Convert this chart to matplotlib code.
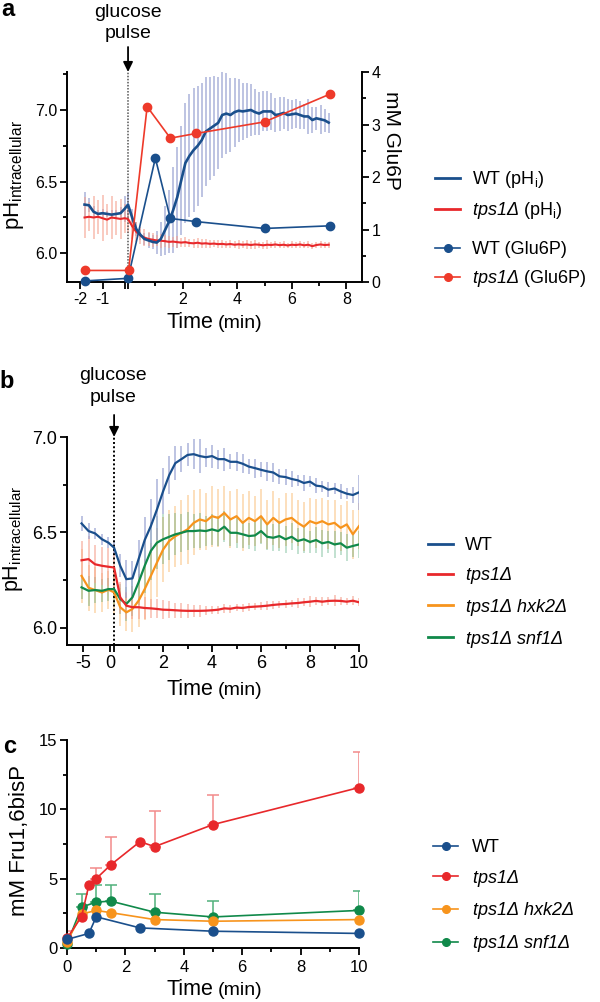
import numpy as np
import matplotlib
matplotlib.use('Agg')
import matplotlib.pyplot as plt
from matplotlib.lines import Line2D

plt.rcParams['font.family'] = ['Liberation Sans', 'DejaVu Sans']
plt.rcParams['mathtext.fontset'] = 'custom'
plt.rcParams['mathtext.rm'] = 'Liberation Sans'
plt.rcParams['mathtext.it'] = 'Liberation Sans:italic'
plt.rcParams['mathtext.sf'] = 'Liberation Sans:italic'
plt.rcParams['mathtext.bf'] = 'Liberation Sans:bold'
plt.rcParams['axes.unicode_minus'] = False

BLUE = '#1a4f8c'
RED = '#e8282b'
ORANGE = '#f7941d'
GREEN = '#10894a'
BLUE_BAR = '#9aa2d2'
RED_BAR = '#f5a08e'

# ---------------- panel a data ----------------
ta_left = [-1.8, -1.6, -1.4, -1.2, -1.0, -0.8, -0.6, -0.4, -0.2, -0.02]
ta_right = np.round(np.arange(50) * 0.15, 2)
ph_a_wt_left = [6.34, 6.335, 6.29, 6.275, 6.28, 6.275, 6.27, 6.275, 6.28, 6.31]
sd_a_wt_left = [0.09, 0.05, 0.04, 0.03, 0.03, 0.02, 0.03, 0.03, 0.04, 0.09]
ph_a_tps_left = [6.25, 6.255, 6.25, 6.255, 6.245, 6.235, 6.25, 6.245, 6.24, 6.245]
sd_a_tps_left = [0.14, 0.10, 0.15, 0.12, 0.16, 0.11, 0.15, 0.12, 0.14, 0.10]
ph_a_wt_right = [6.34, 6.25, 6.17, 6.13, 6.10, 6.09, 6.08, 6.075, 6.10, 6.16,
                 6.22, 6.30, 6.39, 6.51, 6.63, 6.68, 6.72, 6.75, 6.79, 6.85,
                 6.87, 6.89, 6.91, 6.965, 6.975, 6.965, 6.985, 6.995, 6.99, 6.995,
                 7.0, 6.985, 6.975, 6.99, 6.99, 6.99, 6.965, 6.97, 6.98, 6.965,
                 6.97, 6.975, 6.965, 6.955, 6.955, 6.93, 6.942, 6.935, 6.928, 6.912]
sd_a_wt_right = [0.08, 0.06, 0.05, 0.04, 0.04, 0.05, 0.05, 0.08, 0.12, 0.17,
                 0.22, 0.30, 0.35, 0.38, 0.42, 0.43, 0.43, 0.42, 0.40, 0.38,
                 0.36, 0.35, 0.32, 0.30, 0.28, 0.26, 0.24, 0.22, 0.20, 0.19,
                 0.18, 0.16, 0.15, 0.14, 0.14, 0.13, 0.12, 0.12, 0.11, 0.11,
                 0.10, 0.10, 0.10, 0.09, 0.12, 0.09, 0.08, 0.10, 0.08, 0.07]
ph_a_tps_right = [6.24, 6.19, 6.15, 6.125, 6.11, 6.10, 6.095, 6.09, 6.088, 6.085,
                  6.08, 6.082, 6.078, 6.075, 6.078, 6.072, 6.07, 6.074, 6.068, 6.07,
                  6.066, 6.068, 6.064, 6.066, 6.062, 6.065, 6.06, 6.063, 6.06, 6.062,
                  6.058, 6.062, 6.06, 6.056, 6.06, 6.058, 6.062, 6.057, 6.06, 6.055,
                  6.06, 6.058, 6.062, 6.056, 6.06, 6.05, 6.058, 6.062, 6.058, 6.06]
sd_a_tps_right = [0.10, 0.09, 0.07, 0.06, 0.06, 0.05, 0.05, 0.04, 0.05, 0.04,
                  0.04, 0.035, 0.04, 0.03, 0.035, 0.03, 0.03, 0.035, 0.03, 0.03,
                  0.03, 0.025, 0.03, 0.03, 0.025, 0.03, 0.025, 0.03, 0.025, 0.03,
                  0.025, 0.03, 0.02, 0.025, 0.03, 0.02, 0.025, 0.02, 0.025, 0.02,
                  0.025, 0.02, 0.025, 0.02, 0.025, 0.02, 0.02, 0.025, 0.02, 0.02]
t_g6p_wt = [-1.8, 0.0, 1.0, 1.55, 2.5, 5.0, 7.4]
g6p_wt = [0.02, 0.07, 2.36, 1.21, 1.15, 1.02, 1.07]
t_g6p_tps = [-1.8, 0.02, 0.7, 1.55, 2.5, 5.0, 7.4]
g6p_tps = [0.22, 0.22, 3.34, 2.74, 2.83, 3.05, 3.58]

# ---------------- panel b data ----------------
tb_left = [-5.3, -4.0, -2.8, -1.5, -0.3]
tb_right = np.round(np.arange(41) * 0.25, 2)
wt_b_left = [6.547, 6.507, 6.495, 6.464, 6.446]
tps_b_left = [6.354, 6.36, 6.333, 6.325, 6.32]
hxk_b_left = [6.272, 6.21, 6.198, 6.185, 6.2]
snf_b_left = [6.212, 6.194, 6.198, 6.194, 6.203]
wt_b_left_sd = [0.04, 0.04, 0.03, 0.03, 0.03]
tps_b_left_sd = [0.10, 0.12, 0.10, 0.10, 0.10]
hxk_b_left_sd = [0.14, 0.12, 0.12, 0.10, 0.10]
snf_b_left_sd = [0.06, 0.08, 0.07, 0.06, 0.06]
wt_b = [6.42, 6.325, 6.255, 6.259, 6.36, 6.46, 6.533, 6.62, 6.715, 6.80,
        6.863, 6.884, 6.906, 6.91, 6.90, 6.894, 6.90, 6.884, 6.884, 6.87,
        6.87, 6.86, 6.845, 6.837, 6.828, 6.82, 6.814, 6.794, 6.79, 6.78,
        6.773, 6.759, 6.766, 6.745, 6.741, 6.724, 6.73, 6.715, 6.703, 6.696,
        6.71]
tps_b = [6.316, 6.16, 6.116, 6.108, 6.108, 6.104, 6.102, 6.099, 6.095, 6.094,
         6.092, 6.09, 6.089, 6.089, 6.089, 6.09, 6.092, 6.095, 6.102, 6.1,
         6.106, 6.104, 6.109, 6.111, 6.113, 6.116, 6.12, 6.123, 6.125, 6.128,
         6.13, 6.134, 6.137, 6.141, 6.137, 6.141, 6.142, 6.141, 6.137, 6.142,
         6.134]
hxk_b = [6.186, 6.108, 6.081, 6.099, 6.142, 6.203, 6.272, 6.342, 6.41, 6.455,
         6.48, 6.498, 6.516, 6.55, 6.568, 6.559, 6.585, 6.576, 6.602, 6.568,
         6.585, 6.55, 6.576, 6.559, 6.585, 6.542, 6.576, 6.55, 6.568, 6.576,
         6.55, 6.53, 6.559, 6.547, 6.559, 6.542, 6.55, 6.524, 6.542, 6.49,
         6.533]
snf_b = [6.203, 6.151, 6.125, 6.16, 6.238, 6.325, 6.403, 6.446, 6.464, 6.477,
         6.49, 6.498, 6.507, 6.507, 6.51, 6.507, 6.516, 6.507, 6.53, 6.498,
         6.498, 6.49, 6.481, 6.484, 6.507, 6.477, 6.472, 6.481, 6.464, 6.477,
         6.455, 6.464, 6.45, 6.46, 6.443, 6.45, 6.437, 6.443, 6.42, 6.429,
         6.437]
wt_b_sd = [0.04, 0.06, 0.10, 0.09, 0.10, 0.12, 0.14, 0.16, 0.12, 0.10,
           0.09, 0.07, 0.06, 0.08, 0.09, 0.05, 0.06, 0.05, 0.06, 0.04,
           0.05, 0.05, 0.04, 0.05, 0.04, 0.05, 0.05, 0.04, 0.04, 0.04,
           0.03, 0.04, 0.03, 0.04, 0.03, 0.04, 0.03, 0.04, 0.03, 0.04,
           0.09]
tps_b_sd = [0.10, 0.08, 0.07, 0.06, 0.06, 0.06, 0.05, 0.05, 0.05, 0.045,
            0.04, 0.04, 0.035, 0.03, 0.03, 0.025, 0.02, 0.02, 0.025, 0.02,
            0.02, 0.02, 0.02, 0.02, 0.02, 0.025, 0.02, 0.02, 0.02, 0.02,
            0.025, 0.02, 0.03, 0.02, 0.025, 0.02, 0.03, 0.02, 0.02, 0.025,
            0.02]
hxk_b_sd = [0.12, 0.10, 0.10, 0.12, 0.14, 0.16, 0.17, 0.18, 0.17, 0.16,
            0.16, 0.17, 0.18, 0.17, 0.16, 0.15, 0.16, 0.15, 0.14, 0.15,
            0.14, 0.15, 0.14, 0.13, 0.14, 0.13, 0.14, 0.13, 0.14, 0.13,
            0.12, 0.13, 0.12, 0.13, 0.12, 0.13, 0.12, 0.12, 0.12, 0.13,
            0.12]
snf_b_sd = [0.08, 0.08, 0.09, 0.10, 0.12, 0.14, 0.15, 0.14, 0.13, 0.12,
            0.11, 0.10, 0.10, 0.09, 0.09, 0.08, 0.08, 0.08, 0.08, 0.07,
            0.08, 0.07, 0.07, 0.08, 0.07, 0.07, 0.07, 0.08, 0.07, 0.07,
            0.07, 0.07, 0.06, 0.07, 0.07, 0.06, 0.07, 0.06, 0.07, 0.06,
            0.07]

# ---------------- panel c data ----------------
tc_wt = [0, 0.75, 1.0, 2.5, 5.0, 10.0]
fbp_wt = [0.62, 1.05, 2.25, 1.45, 1.21, 1.05]
tc_tps = [0, 0.5, 0.75, 1.0, 1.5, 2.5, 3.0, 5.0, 10.0]
fbp_tps = [0.69, 2.27, 4.55, 5.0, 6.0, 7.67, 7.31, 8.9, 11.57]
fbp_tps_sd = [0.52, 0, 0, 0.78, 2.0, 0, 2.55, 2.15, 2.57]
tc_hxk = [0, 0.5, 1.0, 1.5, 3.0, 5.0, 10.0]
fbp_hxk = [0.45, 2.45, 2.71, 2.55, 2.05, 1.93, 2.05]
tc_snf = [0, 0.5, 1.0, 1.5, 3.0, 5.0, 10.0]
fbp_snf = [0.3, 2.95, 3.31, 3.38, 2.58, 2.24, 2.71]
fbp_snf_sd = [0, 0.95, 1.24, 1.17, 1.28, 1.14, 1.43]

W, H = 600, 1002
fig = plt.figure(figsize=(W / 100, H / 100), dpi=100)


def rect(l, r, t, b):
    return [l / W, 1 - b / H, (r - l) / W, (b - t) / H]


def ftext(x, y, s, **kw):
    return fig.text(x / W, 1 - y / H, s, **kw)


def broken_scale(ax, k, g):
    def fwd(x):
        x = np.asarray(x, float)
        return np.where(x < 0, k * x - g, x)

    def inv(y):
        y = np.asarray(y, float)
        return np.where(y < -g, (y + g) / k, np.maximum(y, 0.0))
    ax.set_xscale('function', functions=(fwd, inv))


def style(ax, fs):
    for s in ['top', 'right']:
        ax.spines[s].set_visible(False)
    for s in ['left', 'bottom']:
        ax.spines[s].set_linewidth(1.4)
    ax.tick_params(which='major', direction='out', length=5, width=1.3,
                   labelsize=fs, pad=2)
    ax.tick_params(which='minor', direction='out', length=3, width=1.3)


def pulse(ax, ytext_frac, x_text_px, y1_px, y2_px):
    ax.annotate('', xy=(0, 1.0), xycoords=('data', 'axes fraction'),
                xytext=(0, ytext_frac), textcoords=('data', 'axes fraction'),
                arrowprops=dict(arrowstyle='-|>,head_length=0.45,head_width=0.22',
                                color='black', lw=1.3, mutation_scale=13,
                                shrinkA=0, shrinkB=0),
                annotation_clip=False)
    ftext(x_text_px, y1_px, 'glucose', ha='center', va='baseline', fontsize=14)
    ftext(x_text_px, y2_px, 'pulse', ha='center', va='baseline', fontsize=14)


def time_label(ybase):
    ftext(213, ybase, 'Time', ha='right', va='baseline', fontsize=15.5)
    ftext(218, ybase, '(min)', ha='left', va='baseline', fontsize=14)


# ================= panel a =================
axA = fig.add_axes(rect(67, 362, 72, 282))
broken_scale(axA, 0.824, 0.11)
axA.set_xlim(-2.58, 8.57)
axA.set_ylim(5.8, 7.265)
style(axA, 11.5)

t_a = np.concatenate([ta_left, ta_right])
wt_a = np.concatenate([ph_a_wt_left, ph_a_wt_right])
wt_a_sd = np.concatenate([sd_a_wt_left, sd_a_wt_right])
tps_a = np.concatenate([ph_a_tps_left, ph_a_tps_right])
tps_a_sd = np.concatenate([sd_a_tps_left, sd_a_tps_right])

axA.vlines(t_a, wt_a - wt_a_sd, wt_a + wt_a_sd, color=BLUE_BAR, lw=1.3, alpha=0.7, zorder=1)
axA.vlines(t_a, tps_a - tps_a_sd, tps_a + tps_a_sd, color=RED_BAR, lw=1.3, alpha=0.6, zorder=1)
axA.axvline(0, color='#555555', ls=(0, (1, 1)), lw=1.1, zorder=1.5)
axA.plot(t_a, tps_a, color=RED, lw=1.5, zorder=2)
axA.plot(t_a, wt_a, color=BLUE, lw=1.9, zorder=3)

axA.set_xticks([-2, -1, -1e-9, 0, 2, 4, 6, 8])
axA.set_xticklabels(['-2', '-1', '', '', '2', '4', '6', '8'])
axA.set_xticks([1, 3, 5, 7], minor=True)
axA.set_yticks([6.0, 6.5, 7.0])
axA.set_yticklabels(['6.0', '6.5', '7.0'])
axA.set_yticks([6.25, 6.75, 7.25], minor=True)

axA2 = axA.twinx()
axA2.set_ylim(0, 4)
for s in ['top', 'left', 'bottom']:
    axA2.spines[s].set_visible(False)
axA2.spines['right'].set_linewidth(1.4)
axA2.tick_params(which='major', direction='out', length=5, width=1.3, labelsize=11.5, pad=2)
axA2.tick_params(which='minor', direction='out', length=3, width=1.3)
axA2.set_yticks([0, 1, 2, 3, 4])
axA2.set_yticks([0.5, 1.5, 2.5, 3.5], minor=True)
axA2.plot(t_g6p_wt, g6p_wt, '-o', color=BLUE, lw=1.2, ms=6, clip_on=False, zorder=4)
axA2.plot(t_g6p_tps, g6p_tps, '-o', color='#ee3a2a', lw=1.2, ms=6, clip_on=False, zorder=4)

pulse(axA, 1.119, 128, 17, 38)
time_label(328)
ftext(14, 175, r'pH$_\mathrm{intracellular}$', rotation=90, ha='center', va='center', fontsize=16)
ftext(392, 140, 'mM Glu6P', rotation=270, ha='center', va='center', fontsize=15)
ftext(1, 16, 'a', fontsize=17, fontweight='bold', va='baseline')

lega1 = fig.legend([Line2D([], [], color=BLUE, lw=2), Line2D([], [], color=RED, lw=2)],
                   [r'WT (pH$_\mathrm{i}$)', r'$\mathsf{tps1Δ}$ (pH$_\mathrm{i}$)'],
                   loc='upper left', bbox_to_anchor=(435 / W, 1 - 169 / H), frameon=False,
                   borderpad=0, borderaxespad=0, handlelength=1.4, handletextpad=0.67,
                   labelspacing=0.55, fontsize=13)
lega2 = fig.legend([Line2D([], [], color=BLUE, lw=1.2, marker='o', ms=5.5),
                    Line2D([], [], color='#ee3a2a', lw=1.2, marker='o', ms=5.5)],
                   ['WT (Glu6P)', r'$\mathsf{tps1Δ}$ (Glu6P)'],
                   loc='upper left', bbox_to_anchor=(435 / W, 1 - 241 / H), frameon=False,
                   borderpad=0, borderaxespad=0, handlelength=1.4, handletextpad=0.67,
                   labelspacing=0.55, fontsize=13)

# ================= panel b =================
axB = fig.add_axes(rect(67, 359, 437, 645))
broken_scale(axB, 0.22, 0.163)
axB.set_xlim(-8, 10)
axB.set_ylim(5.91, 7.0)
style(axB, 13)

t_b = np.concatenate([tb_left, tb_right])
series_b = [
    (np.concatenate([hxk_b_left, hxk_b]), np.concatenate([hxk_b_left_sd, hxk_b_sd]), ORANGE, ORANGE, 0.32),
    (np.concatenate([snf_b_left, snf_b]), np.concatenate([snf_b_left_sd, snf_b_sd]), GREEN, GREEN, 0.28),
    (np.concatenate([tps_b_left, tps_b]), np.concatenate([tps_b_left_sd, tps_b_sd]), RED, RED_BAR, 0.6),
    (np.concatenate([wt_b_left, wt_b]), np.concatenate([wt_b_left_sd, wt_b_sd]), BLUE, BLUE_BAR, 0.7),
]
for m, sd, c, cb, al in series_b:
    axB.vlines(t_b, m - sd, m + sd, color=cb, lw=1.3, alpha=al, zorder=1)
axB.axvline(0, color='black', ls=(0, (1, 1.2)), lw=1.4, zorder=1.5)
for m, sd, c, cb, al in series_b:
    axB.plot(t_b, m, color=c, lw=1.6, zorder=3)

axB.set_xticks([-5, -1e-9, 0, 2, 4, 6, 8, 10])
axB.set_xticklabels(['-5', '0', '', '2', '4', '6', '8', '10'])
axB.set_xticks([1, 3, 5, 7, 9], minor=True)
axB.set_yticks([6.0, 6.5, 7.0])
axB.set_yticklabels(['6.0', '6.5', '7.0'])
axB.set_yticks([6.25, 6.75], minor=True)

pulse(axB, 1.106, 113, 380, 402)
time_label(695)
ftext(13, 539, r'pH$_\mathrm{intracellular}$', rotation=90, ha='center', va='center', fontsize=15.5)
ftext(-1, 388, 'b', fontsize=17, fontweight='bold', va='baseline')

fig.legend([Line2D([], [], color=c, lw=2) for c in [BLUE, RED, ORANGE, GREEN]],
           ['WT', r'$\mathsf{tps1Δ}$', r'$\mathsf{tps1Δ\ hxk2Δ}$', r'$\mathsf{tps1Δ\ snf1Δ}$'],
           loc='upper left', bbox_to_anchor=(428 / W, 1 - 537 / H), frameon=False,
           borderpad=0, borderaxespad=0, handlelength=1.4, handletextpad=0.67,
           labelspacing=0.6, fontsize=13)

# ================= panel c =================
axC = fig.add_axes(rect(67, 359, 740, 948))
axC.set_xlim(0, 10)
axC.set_ylim(0, 15)
style(axC, 12)
axC.tick_params(which='major', axis='x', pad=3.5)

yt = np.array(fbp_tps_sd) > 0
axC.errorbar(np.array(tc_tps)[yt], np.array(fbp_tps)[yt],
             yerr=[np.zeros(yt.sum()), np.array(fbp_tps_sd)[yt]],
             fmt='none', ecolor='#f28a8a', elinewidth=1.1, capsize=4, capthick=1.1, zorder=1)
ys = np.array(fbp_snf_sd) > 0
axC.errorbar(np.array(tc_snf)[ys], np.array(fbp_snf)[ys],
             yerr=[np.zeros(ys.sum()), np.array(fbp_snf_sd)[ys]],
             fmt='none', ecolor='#4fb07a', elinewidth=1.1, capsize=4, capthick=1.1, zorder=1)
axC.plot(tc_snf, fbp_snf, '-o', color=GREEN, lw=1.2, ms=6.5, clip_on=False, zorder=3)
axC.plot(tc_hxk, fbp_hxk, '-o', color=ORANGE, lw=1.2, ms=6.5, clip_on=False, zorder=3)
axC.plot(tc_tps, fbp_tps, '-o', color=RED, lw=1.2, ms=6.5, clip_on=False, zorder=4)
axC.plot(tc_wt, fbp_wt, '-o', color=BLUE, lw=1.2, ms=6.5, clip_on=False, zorder=5)

axC.set_xticks([0, 2, 4, 6, 8, 10])
axC.set_xticks([1, 3, 5, 7, 9], minor=True)
axC.set_yticks([0, 5, 10, 15])
axC.set_yticks([2.5, 7.5, 12.5], minor=True)

ftext(213, 995, 'Time', ha='right', va='baseline', fontsize=15.5)
ftext(218, 995, '(min)', ha='left', va='baseline', fontsize=14)
ftext(20, 841, 'mM Fru1,6bisP', rotation=90, ha='center', va='center', fontsize=16)
ftext(3, 753, 'c', fontsize=17, fontweight='bold', va='baseline')

fig.legend([Line2D([], [], color=c, lw=1.2, marker='o', ms=5.5) for c in [BLUE, RED, ORANGE, GREEN]],
           ['WT', r'$\mathsf{tps1Δ}$', r'$\mathsf{tps1Δ\ hxk2Δ}$', r'$\mathsf{tps1Δ\ snf1Δ}$'],
           loc='upper left', bbox_to_anchor=(433 / W, 1 - 839 / H), frameon=False,
           borderpad=0, borderaxespad=0, handlelength=1.4, handletextpad=0.78,
           labelspacing=0.65, fontsize=13)

fig.savefig('out.png', dpi=100)
